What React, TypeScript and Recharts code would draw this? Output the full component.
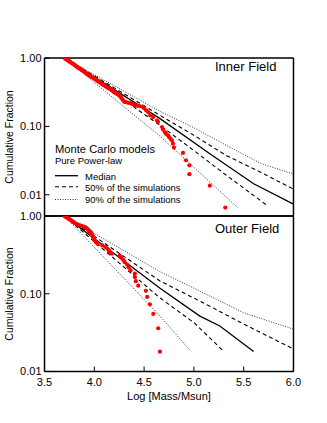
import React from 'react';
import { ComposedChart, Line, Scatter, XAxis, YAxis } from 'recharts';

const W = 327;
const H = 423;
const FONT = '"Liberation Sans", Arial, Helvetica, sans-serif';

const massTicks = [3.5, 4.0, 4.5, 5.0, 5.5, 6.0];
const massMinorTicks = [3.6, 3.7, 3.8, 3.9, 4.1, 4.2, 4.3, 4.4, 4.6, 4.7, 4.8, 4.9, 5.1, 5.2, 5.3, 5.4, 5.6, 5.7, 5.8, 5.9];
const fracTicks = [0.01, 0.1, 1];
const fracMinorTicks = [0.005, 0.006, 0.007, 0.008, 0.009, 0.02, 0.03, 0.04, 0.05, 0.06, 0.07, 0.08, 0.09, 0.2, 0.3, 0.4, 0.5, 0.6, 0.7, 0.8, 0.9];

// observed clusters, inner field (log mass, cumulative fraction)
const innerMass = [3.70, 3.71, 3.72, 3.73, 3.74, 3.75, 3.76, 3.77, 3.78, 3.79, 3.80, 3.81, 3.82, 3.83, 3.84, 3.85, 3.86, 3.87, 3.88, 3.89, 3.90, 3.91, 3.92, 3.93, 3.94, 3.95, 3.96, 3.97, 3.98, 3.99, 4.00, 4.01, 4.02, 4.03, 4.04, 4.05, 4.06, 4.07, 4.08, 4.09, 4.10, 4.11, 4.12, 4.13, 4.14, 4.15, 4.16, 4.17, 4.18, 4.19, 4.20, 4.21, 4.22, 4.23, 4.24, 4.25, 4.26, 4.27, 4.28, 4.29, 4.30, 4.32, 4.34, 4.36, 4.38, 4.40, 4.42, 4.44, 4.46, 4.49, 4.50, 4.52, 4.54, 4.56, 4.59, 4.63, 4.64, 4.68, 4.69, 4.71, 4.72, 4.74, 4.75, 4.765, 4.78, 4.79, 4.80, 4.89, 4.92, 4.955, 4.955, 5.16, 5.315];
const innerFrac = [1.0, 0.977, 0.955, 0.933, 0.912, 0.891, 0.871, 0.851, 0.832, 0.813, 0.794, 0.772, 0.75, 0.733, 0.716, 0.704, 0.692, 0.676, 0.661, 0.646, 0.631, 0.613, 0.596, 0.582, 0.569, 0.556, 0.543, 0.534, 0.525, 0.512, 0.5, 0.49, 0.479, 0.465, 0.452, 0.445, 0.437, 0.424, 0.412, 0.405, 0.398, 0.389, 0.38, 0.371, 0.363, 0.357, 0.351, 0.343, 0.335, 0.325, 0.316, 0.31, 0.305, 0.298, 0.292, 0.284, 0.275, 0.263, 0.251, 0.24, 0.229, 0.226, 0.221, 0.219, 0.213, 0.208, 0.203, 0.2, 0.197, 0.192, 0.185, 0.172, 0.162, 0.145, 0.137, 0.122, 0.116, 0.098, 0.09, 0.082, 0.078, 0.074, 0.07, 0.066, 0.062, 0.056, 0.049, 0.041, 0.032, 0.027, 0.02, 0.0136, 0.0065];

// observed clusters, outer field
const outerMass = [3.70, 3.71, 3.72, 3.73, 3.74, 3.75, 3.76, 3.77, 3.78, 3.79, 3.80, 3.815, 3.83, 3.85, 3.875, 3.90, 3.915, 3.925, 3.935, 3.945, 3.955, 3.965, 3.97, 3.975, 3.98, 3.985, 3.99, 3.995, 4.00, 4.01, 4.02, 4.035, 4.08, 4.11, 4.13, 4.145, 4.155, 4.175, 4.255, 4.27, 4.29, 4.305, 4.33, 4.345, 4.364, 4.407, 4.407, 4.417, 4.441, 4.518, 4.531, 4.558, 4.592, 4.642, 4.659];
const outerFrac = [1.0, 0.982, 0.964, 0.945, 0.927, 0.909, 0.891, 0.873, 0.855, 0.836, 0.818, 0.8, 0.782, 0.764, 0.745, 0.727, 0.709, 0.691, 0.673, 0.655, 0.636, 0.618, 0.6, 0.582, 0.564, 0.545, 0.527, 0.509, 0.491, 0.473, 0.455, 0.436, 0.418, 0.4, 0.382, 0.364, 0.345, 0.327, 0.309, 0.291, 0.273, 0.255, 0.236, 0.218, 0.2, 0.182, 0.164, 0.145, 0.127, 0.109, 0.091, 0.073, 0.055, 0.036, 0.018];

// Monte Carlo envelopes [log mass, fraction]
const innerUpper90 = [[3.7, 1], [4.66, 0.166], [5.0, 0.0955], [5.33, 0.0525], [5.67, 0.0288], [6.0, 0.0201]];
const innerUpper50 = [[3.7, 1], [4.66, 0.145], [5.0, 0.0741], [5.33, 0.0372], [5.67, 0.0214], [6.0, 0.0121]];
const innerMedian = [[3.7, 1], [4.66, 0.13], [5.16, 0.0398], [5.6, 0.0145], [6.0, 0.0073]];
const innerLower50 = [[3.7, 1], [4.66, 0.1035], [5.0, 0.0444], [5.33, 0.0191], [5.74, 0.0069]];
const innerLower90 = [[3.7, 1], [4.66, 0.072], [5.44, 0.0065]];

const outerUpper90 = [[3.7, 1], [4.66, 0.192], [5.0, 0.118], [5.5, 0.0569], [6.0, 0.035]];
const outerUpper50 = [[3.7, 1], [4.66, 0.146], [5.16, 0.0692], [5.5, 0.0407], [6.0, 0.0195]];
const outerMedian = [[3.7, 1], [4.66, 0.118], [5.06, 0.0516], [5.26, 0.0385], [5.6, 0.0181]];
const outerLower50 = [[3.7, 1], [4.66, 0.0881], [5.0, 0.0426], [5.3, 0.0181]];
const outerLower90 = [[3.7, 1], [4.66, 0.0516], [4.97, 0.0181]];

const toRows = (pts: number[][]) => pts.map(([x, y]) => ({ x, y }));

const solid = { stroke: '#000', strokeWidth: 1.3 };
const dashed = { stroke: '#000', strokeWidth: 1.1, strokeDasharray: '4 3' };
const dotted = { stroke: '#000', strokeWidth: 0.8, strokeDasharray: '1 1.5' };

const tickFont = { fontSize: 11, fill: '#000', fontFamily: FONT };
const axisStroke = { stroke: '#000', strokeWidth: 1.5 };
const tl = { stroke: '#000', strokeWidth: 1 };
const THIN = 0.01; // axes need a non-zero size to render

function Panel({ mass, frac, envelopes, yMin, top, bottom, showX }: any) {
    const obs = mass.map((m: number, i: number) => ({ x: m, y: frac[i] }));
    const lines = [
        { pts: envelopes[0], style: dotted },
        { pts: envelopes[1], style: dashed },
        { pts: envelopes[2], style: solid },
        { pts: envelopes[3], style: dashed },
        { pts: envelopes[4], style: dotted },
    ];
    const minorY = fracMinorTicks.filter((t) => t >= yMin);
    const xCommon = { type: 'number' as const, dataKey: 'x', domain: [3.5, 6.0], allowDataOverflow: true, height: THIN, interval: 0 as const };
    const yCommon = { type: 'number' as const, scale: 'log' as const, domain: [yMin, 1], allowDataOverflow: true, width: THIN, interval: 0 as const };
    return (
        <div style={{ position: 'absolute', left: 0, top: 0 }}>
            <ComposedChart width={W} height={H} margin={{ top, bottom: H - bottom, left: 44.5, right: W - 293.5 }}>
                <XAxis {...xCommon} ticks={massTicks} tickSize={-5} tickMargin={12} axisLine={axisStroke} tickLine={tl}
                    tick={showX ? tickFont : false} tickFormatter={(v: number) => v.toFixed(1)} />
                <XAxis {...xCommon} xAxisId="bminor" ticks={massMinorTicks} tickSize={-3} axisLine={false} tickLine={tl} tick={false} />
                <XAxis {...xCommon} xAxisId="top" orientation="top" ticks={massTicks} tickSize={-5} axisLine={axisStroke} tickLine={tl} tick={false} />
                <XAxis {...xCommon} xAxisId="tminor" orientation="top" ticks={massMinorTicks} tickSize={-3} axisLine={false} tickLine={tl} tick={false} />
                <YAxis {...yCommon} ticks={fracTicks} tickSize={-5} tickMargin={8} axisLine={axisStroke} tickLine={tl}
                    tick={tickFont} tickFormatter={(v: number) => v.toFixed(2)} />
                <YAxis {...yCommon} yAxisId="lminor" ticks={minorY} tickSize={-3} axisLine={false} tickLine={tl} tick={false} />
                <YAxis {...yCommon} yAxisId="right" orientation="right" ticks={fracTicks} tickSize={-5} axisLine={axisStroke} tickLine={tl} tick={false} />
                <YAxis {...yCommon} yAxisId="rminor" orientation="right" ticks={minorY} tickSize={-3} axisLine={false} tickLine={tl} tick={false} />
                {lines.map((l, i) => (
                    <Line key={i} data={toRows(l.pts)} dataKey="y" type="linear" dot={false} activeDot={false}
                        {...l.style} isAnimationActive={false} />
                ))}
                <Scatter data={obs} dataKey="y" isAnimationActive={false}
                    shape={(p: any) => <circle cx={p.cx} cy={p.cy} r={2.1} fill="#ff0000" />} />
            </ComposedChart>
        </div>
    );
}

export default function App() {
    return (
        <div style={{ position: 'absolute', left: 0, top: 0, width: W, height: H, background: '#fff', fontFamily: FONT }}>
            <Panel mass={innerMass} frac={innerFrac} yMin={0.0049} top={58} bottom={216} showX={false}
                envelopes={[innerUpper90, innerUpper50, innerMedian, innerLower50, innerLower90]} />
            <Panel mass={outerMass} frac={outerFrac} yMin={0.01} top={216} bottom={371.5} showX={true}
                envelopes={[outerUpper90, outerUpper50, outerMedian, outerLower50, outerLower90]} />
            <svg width={W} height={H} style={{ position: 'absolute', left: 0, top: 0, pointerEvents: 'none' }} fontFamily={FONT}>
                <text x={215} y={71} fontSize={13}>Inner Field</text>
                <text x={215} y={233} fontSize={13}>Outer Field</text>
                <text x={55} y={153} fontSize={11.2}>Monte Carlo models</text>
                <text x={55} y={164} fontSize={9.5}>Pure Power-law</text>
                <line x1={55} x2={78} y1={175.7} y2={175.7} {...solid} />
                <text x={85} y={179.5} fontSize={9.5}>Median</text>
                <line x1={55} x2={78} y1={186.7} y2={186.7} {...dashed} />
                <text x={85} y={190.7} fontSize={9.5}>50% of the simulations</text>
                <line x1={55} x2={78} y1={199.5} y2={199.5} {...dotted} />
                <text x={85} y={202.7} fontSize={9.5}>90% of the simulations</text>
                <text x={13} y={137} fontSize={10.5} textAnchor="middle" transform="rotate(-90 13 137)">Cumulative Fraction</text>
                <text x={13} y={294} fontSize={10.5} textAnchor="middle" transform="rotate(-90 13 294)">Cumulative Fraction</text>
                <text x={169} y={400} fontSize={11} textAnchor="middle">Log [Mass/Msun]</text>
            </svg>
        </div>
    );
}
